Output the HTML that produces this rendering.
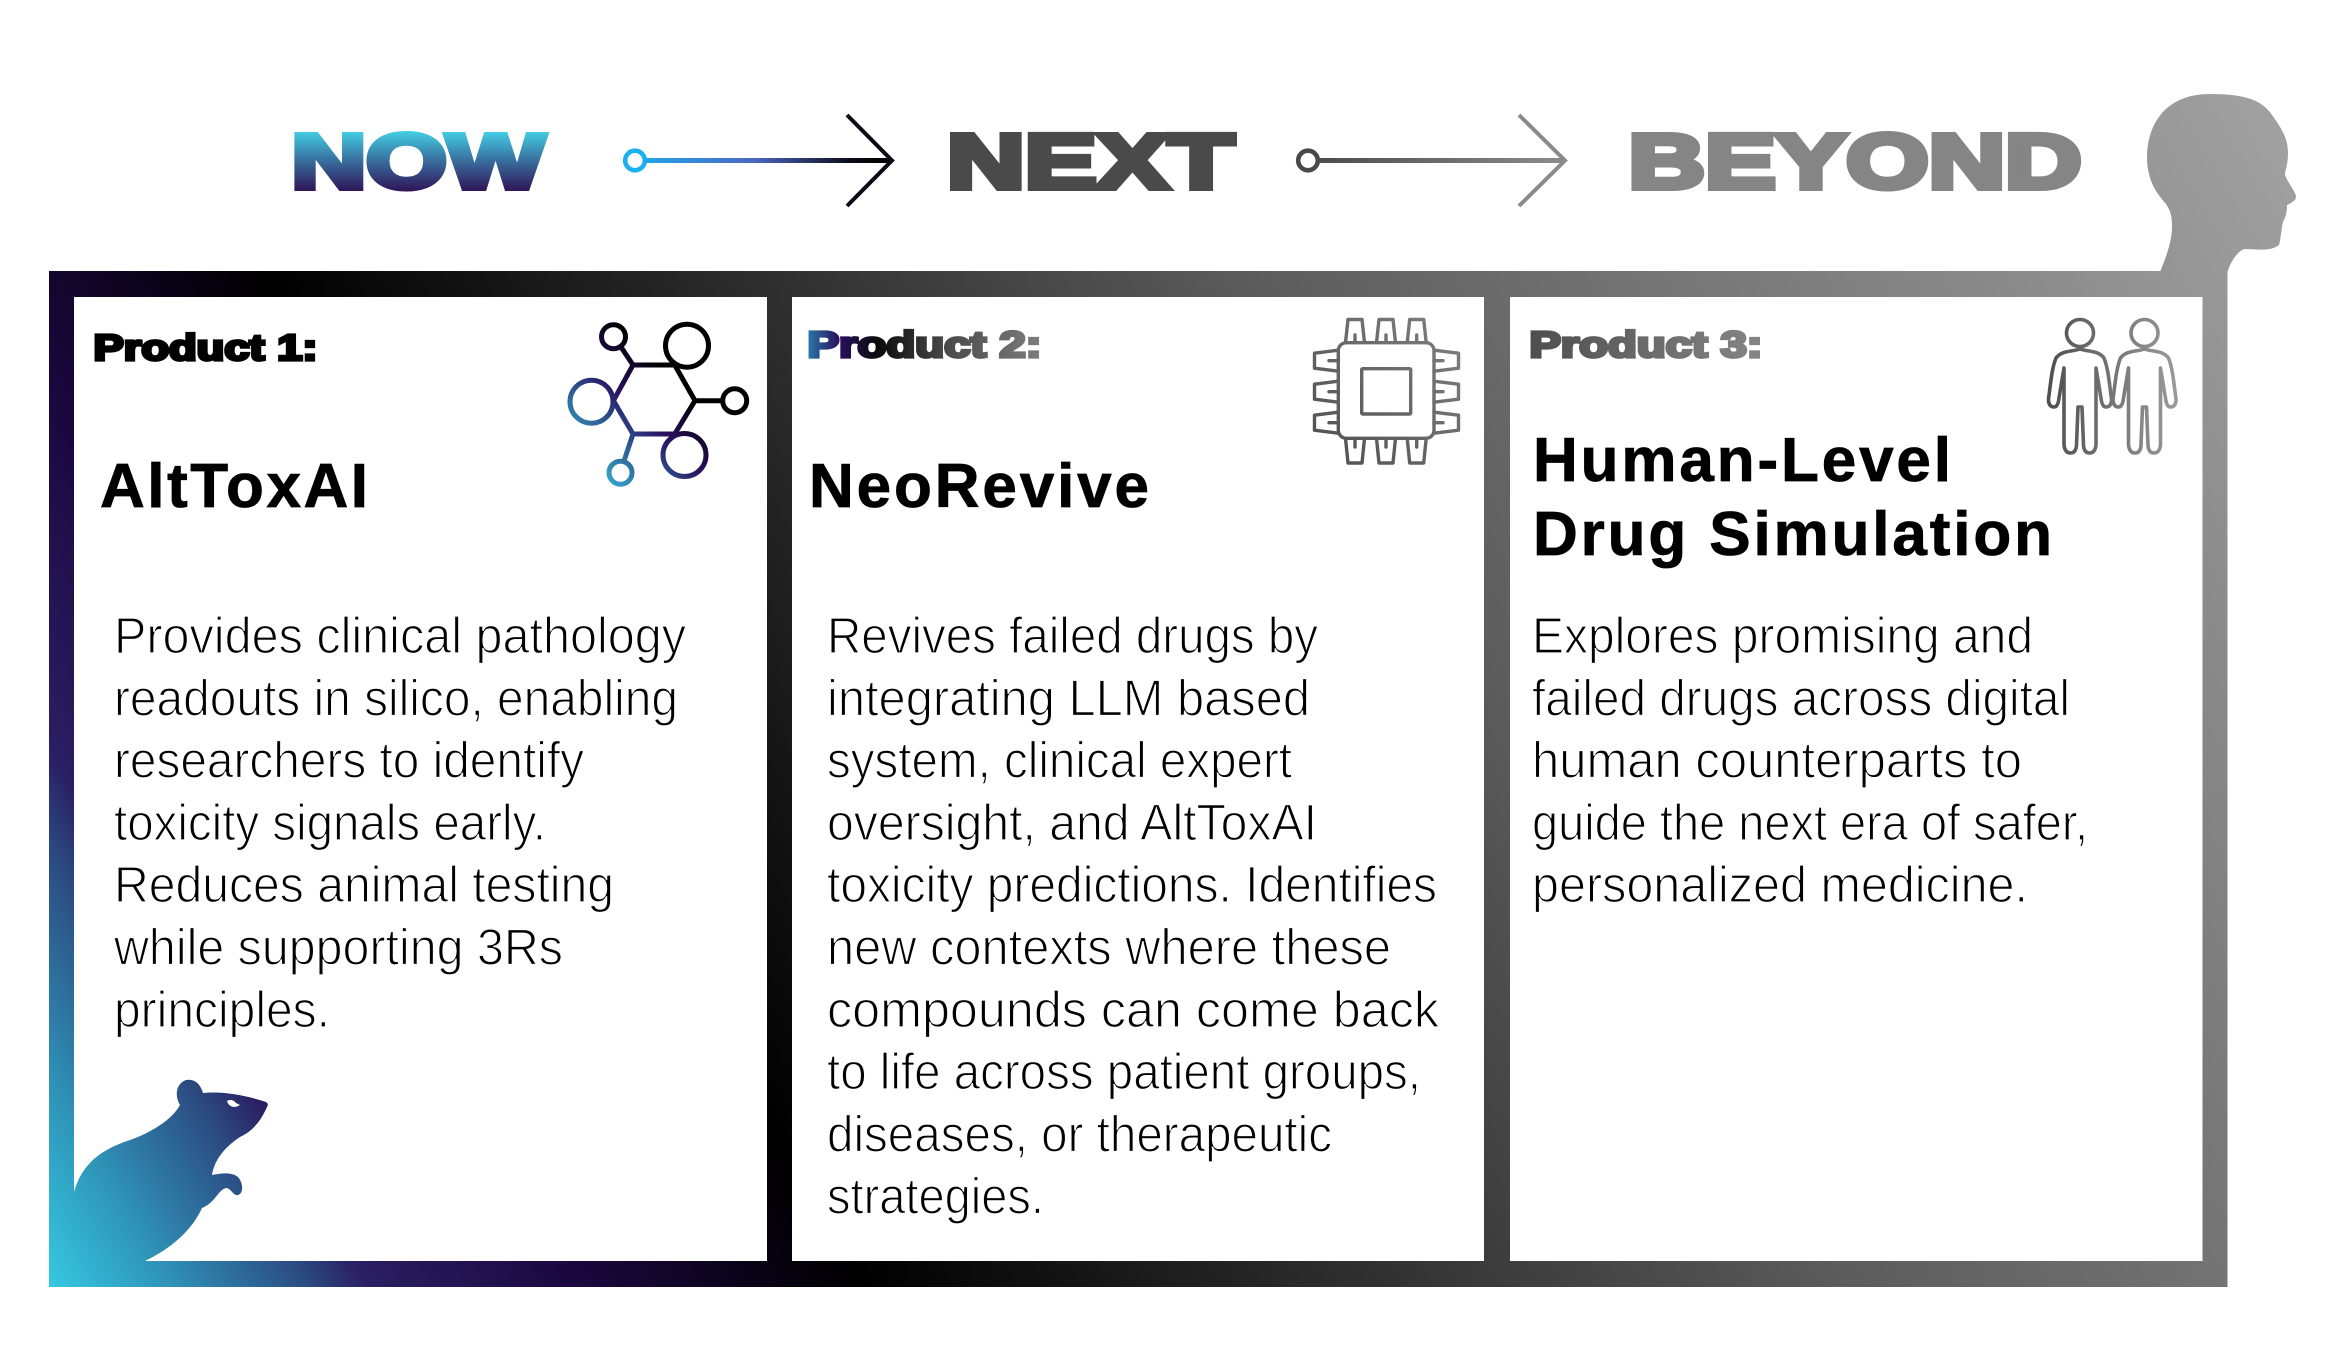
<!DOCTYPE html>
<html lang="en">
<head>
<meta charset="utf-8">
<title>Now Next Beyond</title>
<style>
html,body{margin:0;padding:0;background:#fff;width:2350px;height:1356px;overflow:hidden}
svg{display:block}
text{font-family:"Liberation Sans",Arial,sans-serif}
.t{font-weight:700;stroke-width:6px;font-size:77px}
.p{font-weight:700;stroke-width:3.2px;font-size:36px}
.h{font-weight:700;font-size:62px;fill:#000;stroke:#000;stroke-width:.8px}
.b{font-size:51px;fill:#000;stroke:#fff;stroke-width:1.3px}
</style>
</head>
<body>
<svg width="2350" height="1356" viewBox="0 0 2350 1356" xmlns="http://www.w3.org/2000/svg">
<defs>
<linearGradient id="fr" gradientUnits="userSpaceOnUse" x1="49" y1="1287" x2="2199" y2="12">
<stop offset="0" stop-color="#36c8e2"/>
<stop offset=".04" stop-color="#2f96ba"/>
<stop offset=".09" stop-color="#2b4a80"/>
<stop offset=".11" stop-color="#2a1f63"/>
<stop offset=".18" stop-color="#1b0840"/>
<stop offset=".28" stop-color="#000"/>
<stop offset=".62" stop-color="#5c5c5c"/>
<stop offset="1" stop-color="#a0a0a0"/>
</linearGradient>
<linearGradient id="now" gradientUnits="userSpaceOnUse" x1="0" y1="129" x2="0" y2="191">
<stop offset="0" stop-color="#45d6ea"/>
<stop offset=".5" stop-color="#38709f"/>
<stop offset="1" stop-color="#2f1558"/>
</linearGradient>
<linearGradient id="a1" gradientUnits="userSpaceOnUse" x1="622" y1="0" x2="893" y2="0">
<stop offset="0" stop-color="#1bb0f0"/>
<stop offset=".48" stop-color="#4c68c2"/>
<stop offset=".85" stop-color="#0a0a14"/>
<stop offset="1" stop-color="#000"/>
</linearGradient>
<linearGradient id="a2" gradientUnits="userSpaceOnUse" x1="1300" y1="0" x2="1566" y2="0">
<stop offset="0" stop-color="#484848"/>
<stop offset="1" stop-color="#8c8c8c"/>
</linearGradient>
<linearGradient id="p2" gradientUnits="userSpaceOnUse" x1="808" y1="0" x2="1040" y2="0">
<stop offset="0" stop-color="#2a78a8"/>
<stop offset=".13" stop-color="#2a1060"/>
<stop offset=".3" stop-color="#0a0a0a"/>
<stop offset=".6" stop-color="#4a4a4a"/>
<stop offset="1" stop-color="#7c7c7c"/>
</linearGradient>
<linearGradient id="p3" gradientUnits="userSpaceOnUse" x1="1530" y1="0" x2="1761" y2="0">
<stop offset="0" stop-color="#4e4e4e"/>
<stop offset="1" stop-color="#858585"/>
</linearGradient>
<linearGradient id="mol" gradientUnits="userSpaceOnUse" x1="590" y1="480" x2="705" y2="365">
<stop offset="0" stop-color="#36b8da"/>
<stop offset=".3" stop-color="#2d5f95"/>
<stop offset=".52" stop-color="#2a1060"/>
<stop offset=".8" stop-color="#000"/>
</linearGradient>
<linearGradient id="chip" gradientUnits="userSpaceOnUse" x1="1313" y1="460" x2="1460" y2="320">
<stop offset="0" stop-color="#4f4f4f"/>
<stop offset="1" stop-color="#808080"/>
</linearGradient>
<linearGradient id="ppl" gradientUnits="userSpaceOnUse" x1="2048" y1="0" x2="2176" y2="0">
<stop offset="0" stop-color="#4f4f4f"/>
<stop offset="1" stop-color="#9a9a9a"/>
</linearGradient>
</defs>

<!-- frame, head, rat share one gradient -->
<path fill="url(#fr)" fill-rule="evenodd" d="M49,271H2227.5V1287H49Z M74,297V1261H767V297Z M792,297V1261H1484V297Z M1510,297V1261H2202.5V297Z"/>
<path fill="url(#fr)" d="M2160,272 C2167,255 2172,240 2172,227 C2172,215 2170,210 2166,204 C2155,192 2147,178 2147,157 C2147,125 2165,94 2210,94 C2245,94 2262,100 2272,115 C2283,130 2288,140 2288,153 C2288,165 2285,170 2285,175 C2288,183 2296,192 2296,197 Q2296,201 2287,205 C2287,212 2286,216 2283,222 C2281,230 2281,238 2279,245 C2270,252 2255,249 2245,249 C2238,250 2230,263 2227.5,272 Z"/>
<path fill="url(#fr)" d="M74,1192 C83,1160 106,1148 130,1140 C150,1133 172,1120 180,1105 C175,1097 175,1084 186,1080 C196,1078 201,1086 203,1093 C222,1091 245,1095 266,1102 Q269,1104 267,1107 C262,1118 255,1130 240,1137 C228,1145 215,1157 212,1175 C222,1173 232,1172 238,1177 C244,1184 243,1194 238,1195 C233,1196 231,1188 226,1188 C218,1190 215,1203 202,1208 C192,1230 172,1248 145,1261 L74,1261 Z"/>
<path fill="#fff" d="M227,1101 C230,1099 234,1100 236,1103 L240,1105 C236,1108 229,1108 227,1101 Z"/>

<!-- headers -->
<text class="t" x="291.5" y="188" textLength="253" lengthAdjust="spacingAndGlyphs" fill="url(#now)" stroke="url(#now)">NOW</text>
<text class="t" x="947" y="188" textLength="287" lengthAdjust="spacingAndGlyphs" fill="#4a4a4a" stroke="#4a4a4a">NEXT</text>
<text class="t" x="1628.5" y="188" textLength="453" lengthAdjust="spacingAndGlyphs" fill="#858585" stroke="#858585">BEYOND</text>

<!-- arrows -->
<g fill="none">
<circle cx="635" cy="160.5" r="9.8" stroke="#1bb0f0" stroke-width="4.6" fill="#fff"/>
<path d="M645,160.5H890" stroke="url(#a1)" stroke-width="5"/>
<path d="M847,115L892,160.5L847,206" stroke="#0b0b16" stroke-width="4"/>
<circle cx="1308" cy="160.5" r="9.8" stroke="#484848" stroke-width="4.6" fill="#fff"/>
<path d="M1318,160.5H1563" stroke="url(#a2)" stroke-width="5"/>
<path d="M1519,115L1565,160.5L1519,206" stroke="#8a8a8a" stroke-width="4"/>
</g>

<!-- product labels -->
<text class="p" x="93.5" y="360" textLength="224" lengthAdjust="spacingAndGlyphs" fill="#000" stroke="#000">Product 1:</text>
<text class="p" x="807.5" y="357" textLength="234" lengthAdjust="spacingAndGlyphs" fill="url(#p2)" stroke="url(#p2)">Product 2:</text>
<text class="p" x="1529.5" y="357" textLength="233" lengthAdjust="spacingAndGlyphs" fill="url(#p3)" stroke="url(#p3)">Product 3:</text>

<!-- titles -->
<text class="h" x="100" y="507" textLength="268" lengthAdjust="spacing">AltToxAI</text>
<text class="h" x="809" y="507" textLength="340" lengthAdjust="spacing">NeoRevive</text>
<text class="h" x="1533" y="481" textLength="418" lengthAdjust="spacing">Human-Level</text>
<text class="h" x="1533" y="555" textLength="519" lengthAdjust="spacing">Drug Simulation</text>

<!-- molecule -->
<g fill="none" stroke="url(#mol)" stroke-width="5">
<path d="M633,365H674.7L695,400.7L674.7,434H633L613.4,400.7Z"/>
<path d="M633,365L621,347M633,434L624,461M695,400.7H723"/>
<circle cx="613.5" cy="336.7" r="12"/>
<circle cx="687" cy="345.7" r="21.5"/>
<circle cx="591.5" cy="401.7" r="21.5"/>
<circle cx="734.7" cy="400.7" r="12"/>
<circle cx="684.5" cy="455" r="21.5"/>
<circle cx="620.5" cy="472.7" r="11.5"/>
</g>

<!-- chip -->
<g fill="none" stroke="url(#chip)" stroke-width="3.4" stroke-linejoin="round" stroke-linecap="round">
<rect x="1338.3" y="342.7" width="95.7" height="95.6" rx="8"/>
<rect x="1361.7" y="368.7" width="49" height="45.3" rx="1"/>
<path d="M1345.5,342.7L1348,319.5H1362L1364.5,342.7M1355,342.7V335"/>
<path d="M1376.5,342.7L1379,319.5H1393L1395.5,342.7M1386,342.7V335"/>
<path d="M1407.2,342.7L1409.7,319.5H1423.7L1426.2,342.7M1416.7,342.7V335"/>
<path d="M1345.5,438.3L1348,463H1362L1364.5,438.3M1355,438.3V447"/>
<path d="M1376.5,438.3L1379,463H1393L1395.5,438.3M1386,438.3V447"/>
<path d="M1407.2,438.3L1409.7,463H1423.7L1426.2,438.3M1416.7,438.3V447"/>
<path d="M1338.3,350.2L1314.5,353.2V368.2L1338.3,371.2M1338.3,360.7H1329"/>
<path d="M1338.3,381.2L1314.5,384.2V399.2L1338.3,402.2M1338.3,391.7H1329"/>
<path d="M1338.3,412.2L1314.5,415.2V430.2L1338.3,433.2M1338.3,422.7H1329"/>
<path d="M1434,350.2L1458.5,353.2V368.2L1434,371.2M1434,360.7H1443"/>
<path d="M1434,381.2L1458.5,384.2V399.2L1434,402.2M1434,391.7H1443"/>
<path d="M1434,412.2L1458.5,415.2V430.2L1434,433.2M1434,422.7H1443"/>
</g>

<!-- people -->
<g fill="none" stroke="url(#ppl)" stroke-width="3.6" stroke-linejoin="round">
<circle cx="2080" cy="333" r="13.5"/>
<path d="M2080,349 C2072,352 2062,350 2056,358 C2052,368 2051,380 2048.4,400 Q2049,407 2054,407 Q2058,407 2059,398 L2064,368 L2064,445 Q2065,453 2070.5,453 Q2076,453 2076.5,445 L2078,407 L2082,407 L2083.5,445 Q2084,453 2089.5,453 Q2095,453 2096,445 L2096,368 L2101,398 Q2102,407 2106,407 Q2111,407 2111.6,400 C2109,380 2108,368 2104,358 C2098,350 2088,352 2080,349 Z"/>
<circle cx="2144.5" cy="333" r="13.5"/>
<path d="M2144.5,349 C2136.5,352 2126.5,350 2120.5,358 C2116.5,368 2115.5,380 2112.9,400 Q2113.5,407 2118.5,407 Q2122.5,407 2123.5,398 L2128.5,368 L2128.5,445 Q2129.5,453 2135,453 Q2140.5,453 2141,445 L2142.5,407 L2146.5,407 L2148,445 Q2148.5,453 2154,453 Q2159.5,453 2160.5,445 L2160.5,368 L2165.5,398 Q2166.5,407 2170.5,407 Q2175.5,407 2176.1,400 C2173.5,380 2172.5,368 2168.5,358 C2162.5,350 2152.5,352 2144.5,349 Z"/>
</g>

<!-- body: card 1 -->
<text class="b" x="114" y="653" textLength="572" lengthAdjust="spacingAndGlyphs">Provides clinical pathology</text>
<text class="b" x="114" y="715.3" textLength="564" lengthAdjust="spacingAndGlyphs">readouts in silico, enabling</text>
<text class="b" x="114" y="777.6" textLength="470" lengthAdjust="spacingAndGlyphs">researchers to identify</text>
<text class="b" x="114" y="839.9" textLength="432" lengthAdjust="spacingAndGlyphs">toxicity signals early.</text>
<text class="b" x="114" y="902.2" textLength="500" lengthAdjust="spacingAndGlyphs">Reduces animal testing</text>
<text class="b" x="114" y="964.5" textLength="449" lengthAdjust="spacingAndGlyphs">while supporting 3Rs</text>
<text class="b" x="114" y="1026.8" textLength="216" lengthAdjust="spacingAndGlyphs">principles.</text>

<!-- body: card 2 -->
<text class="b" x="827" y="653" textLength="491" lengthAdjust="spacingAndGlyphs">Revives failed drugs by</text>
<text class="b" x="827" y="715.3" textLength="483" lengthAdjust="spacingAndGlyphs">integrating LLM based</text>
<text class="b" x="827" y="777.6" textLength="465" lengthAdjust="spacingAndGlyphs">system, clinical expert</text>
<text class="b" x="827" y="839.9" textLength="490" lengthAdjust="spacingAndGlyphs">oversight, and AltToxAI</text>
<text class="b" x="827" y="902.2" textLength="610" lengthAdjust="spacingAndGlyphs">toxicity predictions. Identifies</text>
<text class="b" x="827" y="964.5" textLength="564" lengthAdjust="spacingAndGlyphs">new contexts where these</text>
<text class="b" x="827" y="1026.8" textLength="612" lengthAdjust="spacingAndGlyphs">compounds can come back</text>
<text class="b" x="827" y="1089.1" textLength="594" lengthAdjust="spacingAndGlyphs">to life across patient groups,</text>
<text class="b" x="827" y="1151.4" textLength="505" lengthAdjust="spacingAndGlyphs">diseases, or therapeutic</text>
<text class="b" x="827" y="1213.7" textLength="217" lengthAdjust="spacingAndGlyphs">strategies.</text>

<!-- body: card 3 -->
<text class="b" x="1532" y="653" textLength="501" lengthAdjust="spacingAndGlyphs">Explores promising and</text>
<text class="b" x="1532" y="715.3" textLength="538" lengthAdjust="spacingAndGlyphs">failed drugs across digital</text>
<text class="b" x="1532" y="777.6" textLength="490" lengthAdjust="spacingAndGlyphs">human counterparts to</text>
<text class="b" x="1532" y="839.9" textLength="556" lengthAdjust="spacingAndGlyphs">guide the next era of safer,</text>
<text class="b" x="1532" y="902.2" textLength="496" lengthAdjust="spacingAndGlyphs">personalized medicine.</text>
</svg>
</body>
</html>
